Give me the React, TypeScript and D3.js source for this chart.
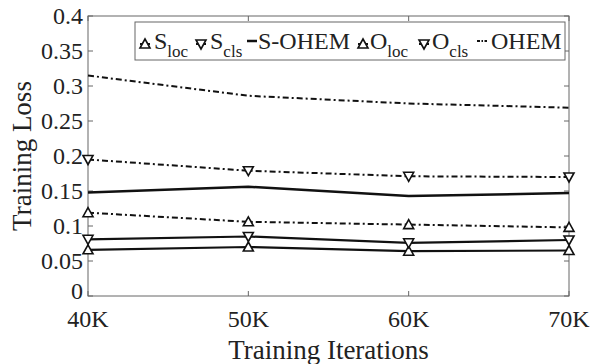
import React from "react";
import * as d3 from "d3";

const iterations = ["40K", "50K", "60K", "70K"];
const sLoc = [0.066, 0.07, 0.064, 0.065];
const sCls = [0.081, 0.085, 0.076, 0.080];
const sOhem = [0.148, 0.156, 0.143, 0.147];
const oLoc = [0.119, 0.106, 0.102, 0.098];
const oCls = [0.195, 0.179, 0.171, 0.170];
const ohem = [0.315, 0.286, 0.275, 0.269];
const yTicks = [0, 0.05, 0.1, 0.15, 0.2, 0.25, 0.3, 0.35, 0.4];
const yTickLabels = ["0", "0.05", "0.1", "0.15", "0.2", "0.25", "0.3", "0.35", "0.4"];

type Series = { name: string; sub?: string; values: number[]; dash?: string; marker?: "up" | "down"; width: number };

const series: Series[] = [
  { name: "S", sub: "loc", values: sLoc, marker: "up", width: 2.2 },
  { name: "S", sub: "cls", values: sCls, marker: "down", width: 2.2 },
  { name: "S-OHEM", values: sOhem, width: 2.5 },
  { name: "O", sub: "loc", values: oLoc, marker: "up", dash: "6,3,2,3", width: 2 },
  { name: "O", sub: "cls", values: oCls, marker: "down", dash: "6,3,2,3", width: 2 },
  { name: "OHEM", values: ohem, dash: "6,3,2,3", width: 2 },
];

const W = 593, H = 364;
const L = 88, R = 569, T = 16, B = 296;
const font = "'Liberation Serif', 'Times New Roman', serif";
const txt = "#222";
const axisCol = "#666";

function Marker({ x, y, kind }: { x: number; y: number; kind: "up" | "down" }) {
  const s = 5;
  const pts = kind === "up"
    ? [[x, y - s], [x + s, y + s * 0.8], [x - s, y + s * 0.8]]
    : [[x, y + s], [x + s, y - s * 0.8], [x - s, y - s * 0.8]];
  return <polygon points={pts.map(p => p.join(",")).join(" ")} fill="white" stroke="#111" strokeWidth={1.6} />;
}

export default function App() {
  const x = d3.scalePoint<string>().domain(iterations).range([L, R]);
  const y = d3.scaleLinear().domain([0, 0.4]).range([B, T]);
  const line = d3.line<number>().x((_, i) => x(iterations[i]) as number).y(d => y(d));

  const legendItems = [
    { s: series[0], mx: 145, tx: 154 },
    { s: series[1], mx: 201, tx: 210 },
    { s: series[2], mx: 252, tx: 258 },
    { s: series[3], mx: 363, tx: 370 },
    { s: series[4], mx: 424, tx: 432 },
    { s: series[5], mx: 482, tx: 491 },
  ];

  return (
    <svg width={W} height={H} style={{ position: "absolute", left: 0, top: 0, background: "white" }}>
      <rect x={0} y={0} width={W} height={H} fill="white" />
      <rect x={L} y={T} width={R - L} height={B - T} fill="none" stroke={axisCol} strokeWidth={1} />
      {yTicks.map((t, i) => (
        <g key={"yt" + i}>
          <line x1={L} x2={L + 5} y1={y(t)} y2={y(t)} stroke={axisCol} />
          <line x1={R} x2={R - 5} y1={y(t)} y2={y(t)} stroke={axisCol} />
          <text x={L - 5} y={y(t) + (t === 0 ? 3 : 8)} textAnchor="end" fontFamily={font} fontSize={24} fill={txt}>{yTickLabels[i]}</text>
        </g>
      ))}
      {iterations.map(it => (
        <g key={"xt" + it}>
          <line x1={x(it)} x2={x(it)} y1={B} y2={B - 5} stroke={axisCol} />
          <line x1={x(it)} x2={x(it)} y1={T} y2={T + 5} stroke={axisCol} />
          <text x={x(it)} y={B + 31} textAnchor="middle" fontFamily={font} fontSize={24} fill={txt}>{it}</text>
        </g>
      ))}
      <text x={(L + R) / 2} y={359} textAnchor="middle" fontFamily={font} fontSize={27} fill={txt}>Training Iterations</text>
      <text transform={`translate(31,${(T + B) / 2}) rotate(-90)`} textAnchor="middle" fontFamily={font} fontSize={27} fill={txt}>Training Loss</text>

      {series.map((s, i) => (
        <g key={"s" + i}>
          <path d={line(s.values) || ""} fill="none" stroke="#111" strokeWidth={s.width} strokeDasharray={s.dash} />
          {s.marker && s.values.map((v, j) => (
            <Marker key={j} x={x(iterations[j]) as number} y={y(v)} kind={s.marker!} />
          ))}
        </g>
      ))}

      <rect x={135} y={22} width={430} height={38} fill="white" stroke={axisCol} strokeWidth={1} />
      {legendItems.map((it, i) => (
        <g key={"lg" + i}>
          {it.s.marker ? (
            <>
              <line x1={it.mx - 5} x2={it.mx + 5} y1={44} y2={44} stroke="#111" strokeWidth={2} />
              <Marker x={it.mx} y={44} kind={it.s.marker} />
            </>
          ) : (
            <line x1={it.mx - 5} x2={it.mx + 5} y1={41} y2={41} stroke="#111" strokeWidth={it.s.width} strokeDasharray={it.s.dash ? "3,1.5,1.5,1.5" : undefined} />
          )}
          <text x={it.tx} y={49} fontFamily={font} fontSize={24} fill={txt}>
            {it.s.name}
            {it.s.sub && <tspan fontSize={17} dy={8}>{it.s.sub}</tspan>}
          </text>
        </g>
      ))}
    </svg>
  );
}
